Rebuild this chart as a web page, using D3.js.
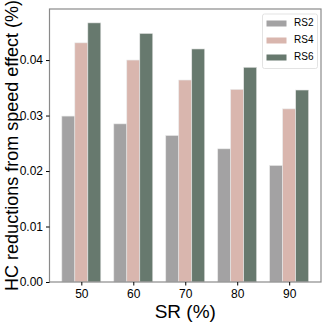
<!DOCTYPE html>
<meta charset="utf-8">
<head>
    <style>
        body {margin: 0; padding: 0; background: #fff;}
        text {font-family: "Liberation Sans", Arial, sans-serif; fill: #000;}
        .axis path, .axis line {stroke: #000;}
    </style>
    <script src="https://d3js.org/d3.v7.min.js"></script>
</head>
<body>
    <script>
        // values
        var categories = ["50", "60", "70", "80", "90"];
        var seriesNames = ["RS2", "RS4", "RS6"];
        var rs2 = [0.0299, 0.0285, 0.0264, 0.0240, 0.0210];
        var rs4 = [0.0431, 0.0400, 0.0364, 0.0347, 0.0312];
        var rs6 = [0.0467, 0.0448, 0.0420, 0.0387, 0.0346];
        var yTicks = [0.00, 0.01, 0.02, 0.03, 0.04];
        var colors = ["#a3a2a3", "#d9b6ae", "#67796e"];

        var series = [rs2, rs4, rs6];

        var margin = {top: 9, right: 11, bottom: 50, left: 49.5},
            width = 332 - margin.left - margin.right,
            height = 332 - margin.top - margin.bottom;

        var svg = d3.select("body").append("svg")
            .attr("width", 332)
            .attr("height", 332)
          .append("g")
            .attr("transform", "translate(" + margin.left + "," + margin.top + ")");

        // matplotlib style: positions 0..4, bars 0.25 wide, 5% margins
        var x = d3.scaleLinear()
            .domain([-0.6125, categories.length - 1 + 0.6125])
            .range([0, width]);

        var y = d3.scaleLinear()
            .domain([0, 0.0492])
            .range([height, 0]);

        var barW = 0.25;

        series.forEach(function(vals, s) {
            svg.append("g").selectAll("rect")
                .data(vals)
              .enter().append("rect")
                .attr("x", function(d, i) {return x(i + (s - 1.5) * barW)})
                .attr("y", function(d) {return y(d)})
                .attr("width", x(barW) - x(0))
                .attr("height", function(d) {return height - y(d)})
                .attr("fill", colors[s])
                .attr("stroke", "#e8e8e8")
                .attr("stroke-width", 0.6);
        });

        // frame
        svg.append("rect")
            .attr("width", width)
            .attr("height", height)
            .attr("fill", "none")
            .attr("stroke", "#8a8a8a")
            .attr("stroke-width", 1.2);

        var yAxis = svg.append("g")
            .attr("class", "axis")
            .call(d3.axisLeft(y).tickValues(yTicks).tickFormat(d3.format(".2f")).tickSize(3.5).tickPadding(3));
        yAxis.select(".domain").remove();
        yAxis.selectAll("text").attr("font-size", "12px");

        var xAxis = svg.append("g")
            .attr("class", "axis")
            .attr("transform", "translate(0," + height + ")")
            .call(d3.axisBottom(x).tickValues(d3.range(categories.length))
                .tickFormat(function(d) {return categories[d]}).tickSize(3.5).tickPadding(3.5));
        xAxis.select(".domain").remove();
        xAxis.selectAll("text").attr("font-size", "12px");

        svg.append("text")
            .attr("x", width / 2)
            .attr("y", height + 31)
            .attr("dominant-baseline", "middle")
            .attr("text-anchor", "middle")
            .attr("font-size", "19px")
            .text("SR (%)");

        svg.append("text")
            .attr("transform", "translate(" + (-36) + "," + (height / 2) + ") rotate(-90)")
            .attr("dominant-baseline", "middle")
            .attr("text-anchor", "middle")
            .attr("font-size", "18px")
            .text("HC reductions from speed effect (%)");

        // legend
        var legend = svg.append("g")
            .attr("transform", "translate(" + (width - 58.5) + ",5)");
        legend.append("rect")
            .attr("width", 55)
            .attr("height", 54.5)
            .attr("rx", 2)
            .attr("fill", "#fff")
            .attr("fill-opacity", 0.8)
            .attr("stroke", "#dcdcdc")
            .attr("stroke-width", 0.8);
        seriesNames.forEach(function(name, s) {
            legend.append("rect")
                .attr("x", 4)
                .attr("y", 9.5 + s * 17 - 3)
                .attr("width", 20)
                .attr("height", 6)
                .attr("fill", colors[s]);
            legend.append("text")
                .attr("x", 31.5)
                .attr("y", 9.5 + s * 17)
                .attr("dominant-baseline", "middle")
                .attr("font-size", "10px")
                .text(name);
        });
    </script>
</body>
